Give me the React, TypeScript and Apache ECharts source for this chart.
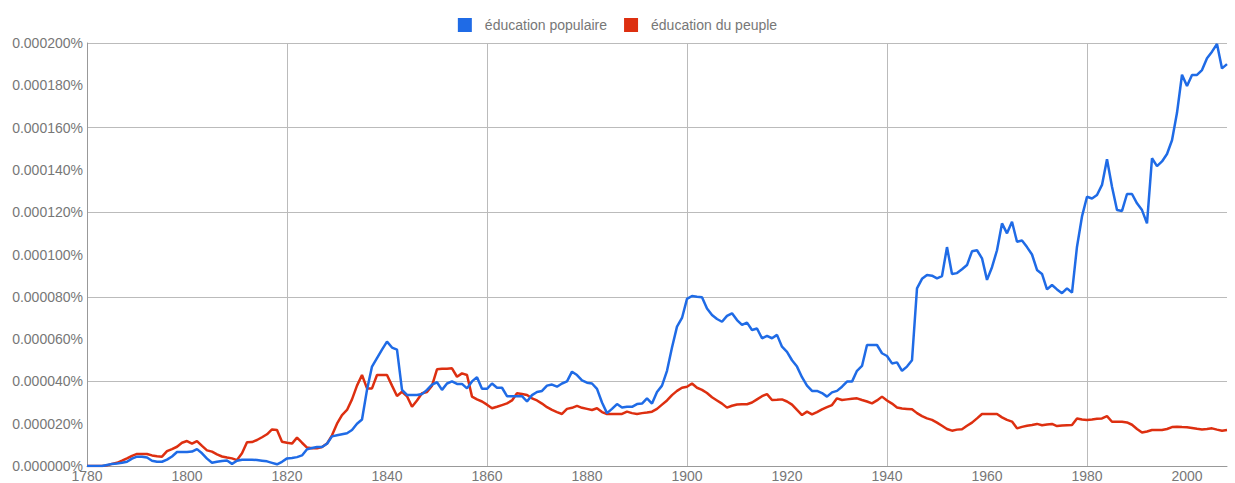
import React, { useEffect, useRef } from "react";
import * as echarts from "echarts";

// Values in millionths of a percent (20 = 0.000020%)
const startYear = 1780;
const endYear = 2008;

const seriesNames = ["éducation populaire", "éducation du peuple"];

const educationPopulaire = [
  0, 0, 0, 0, 0.5, 1, 1.2, 1.5, 2, 3.5,
  4.4, 4.4, 4, 2.5, 2, 2, 3, 4.5, 6.6, 6.6,
  6.6, 6.8, 8, 6, 3.5, 1.5, 2, 2.4, 2.6, 1,
  2.5, 3, 3, 3, 2.8, 2.5, 2.2, 1.5, 0.8, 2,
  3.6, 3.8, 4.2, 5, 7.9, 8.5, 9, 9, 10.5, 14,
  14.5, 15, 15.5, 17, 20, 22, 36, 47, 51, 55,
  58.8, 56, 55, 36, 33.6, 33.6, 33.6, 34, 36, 38.5,
  39.6, 36, 39, 40, 38.8, 38.8, 36.7, 40, 42, 36.5,
  36.5, 39, 37, 37, 33, 33, 33, 33, 30.5, 33.5,
  35, 35.5, 38, 38.5, 37.5, 39, 40, 44.6, 43, 40.5,
  39.4, 39, 36.5, 30, 25, 27, 29.3, 27.7, 28, 28,
  29.3, 29.5, 32, 29.5, 35, 38, 45, 56, 65.9, 70,
  79, 80.4, 80, 79.8, 74.5, 71.4, 69.5, 68.2, 71, 72.2,
  69, 66.7, 67.8, 64.3, 65, 60.4, 61.5, 60.4, 62, 56.4,
  54, 50, 47, 42, 38, 35.5, 35.5, 34.5, 32.8, 34.8,
  35.5, 37.5, 39.9, 39.9, 45, 47.3, 57.2, 57.2, 57.2, 53.3,
  52, 48.5, 49, 45, 47, 50, 84, 88.5, 90.3, 90,
  88.7, 89.8, 103.5, 90.8, 91.2, 93, 95, 101.5, 102, 98.2,
  88, 94, 102, 114.7, 110, 115.5, 106, 106.6, 103.5, 100,
  92.7, 90.8, 83.5, 85.6, 83.5, 81.7, 84, 82, 103.7, 118,
  127.3, 126.5, 128.1, 132.9, 145, 132, 121, 120.6, 128.6, 128.6,
  124.2, 121, 114.7, 145.5, 141.8, 144, 147.5, 154, 167, 185,
  179.7, 184.9, 184.9, 187.2, 192.8, 195.9, 199.5, 188, 190,
];

const educationDuPeuple = [
  0, 0, 0, 0, 0.3, 1, 1.5, 2.5, 3.6, 4.8,
  5.7, 5.7, 5.7, 5, 4.6, 4.4, 7, 8, 9.1, 11,
  11.8, 10.6, 11.8, 9.5, 7.4, 6.8, 5.5, 4.5, 4, 3.6,
  2.8, 6, 11.2, 11.3, 12.3, 13.6, 15, 17.3, 17, 11.5,
  11, 10.6, 13.4, 11, 8.7, 8.4, 8.4, 9, 10.6, 14.5,
  20, 24.1, 26.5, 31.5, 38, 43, 36.7, 36.7, 43, 43,
  43, 38, 33.1, 35.1, 33, 28, 31, 34.4, 35, 38,
  45.7, 46, 46, 46.2, 42.2, 43.8, 43, 32.8, 31.5, 30.5,
  29, 27.3, 28, 28.8, 29.6, 31, 34.4, 34, 33.6, 32,
  31, 29.5, 27.8, 26.5, 25.5, 24.6, 27, 27.5, 28.4, 27.5,
  27, 26.5, 27.3, 25.5, 24.6, 24.6, 24.6, 24.6, 25.7, 25,
  24.6, 25, 25.3, 25.7, 27, 29, 31, 33.5, 35.5, 37,
  37.5, 39, 37, 36, 34.5, 32.5, 31, 29.5, 27.6, 28.5,
  29.1, 29.2, 29.2, 30, 31.5, 33, 34, 31.2, 31.3, 31.5,
  30.5, 29, 26.5, 24.1, 25.7, 24.4, 25.5, 26.8, 27.8, 28.8,
  32, 31.2, 31.5, 31.8, 32, 31.2, 30.5, 29.6, 31, 32.8,
  31, 29.5, 27.7, 27.2, 27, 26.8, 25, 23.6, 22.5, 21.8,
  20.5, 19, 17.5, 16.7, 17.2, 17.4, 19, 20.5, 22.5, 24.6,
  24.6, 24.6, 24.6, 23, 21.8, 21, 17.8, 18.5, 19, 19.4,
  19.9, 19.3, 19.6, 19.9, 18.9, 19.2, 19.3, 19.4, 22.5, 22,
  21.8, 22, 22.3, 22.5, 23.6, 20.9, 20.9, 20.9, 20.6, 19.5,
  17.5, 15.8, 16.3, 17, 17, 17, 17.5, 18.4, 18.6, 18.4,
  18.3, 18, 17.6, 17.3, 17.5, 17.8, 17.2, 16.7, 17,
];

const seriesColors = ["#1f6be6", "#dd2f10"];

const toPairs = (vals: number[]) => vals.map((v, i) => [startYear + i, v]);

export default function App() {
  const ref = useRef<HTMLDivElement>(null);
  useEffect(() => {
    if (!ref.current) return;
    const chart = echarts.init(ref.current, undefined, { renderer: "svg" });
    const font = "'Liberation Sans', Arial, Helvetica, sans-serif";
    chart.setOption({
      animation: false,
      backgroundColor: "#ffffff",
      textStyle: { fontFamily: font },
      legend: {
        top: 13,
        left: "center",
        itemWidth: 14,
        itemHeight: 14,
        itemGap: 17,
        icon: "rect",
        textStyle: {
          color: "#777",
          fontSize: 14,
          fontFamily: font,
          padding: [0, 0, 0, 8],
        },
        data: seriesNames,
      },
      grid: { left: 87, top: 43, right: 8, bottom: 17, containLabel: false },
      xAxis: {
        type: "value",
        min: startYear,
        max: endYear,
        interval: 20,
        axisLine: { show: true, lineStyle: { color: "#999", width: 1 } },
        axisTick: { show: false },
        axisLabel: {
          color: "#777",
          fontSize: 14,
          margin: 3,
          fontFamily: font,
          formatter: (v: number) => (v % 20 === 0 ? String(v) : ""),
        },
        splitLine: {
          show: true,
          showMaxLine: false,
          lineStyle: { color: ["#bbbbbb", "rgba(0,0,0,0)"], width: 1 },
        },
      },
      yAxis: {
        type: "value",
        min: 0,
        max: 200,
        interval: 20,
        axisLine: { show: true, lineStyle: { color: "#999", width: 1 } },
        axisTick: { show: false },
        axisLabel: {
          color: "#777",
          fontSize: 14,
          margin: 4,
          fontFamily: font,
          formatter: (v: number) => (v / 1e6).toFixed(6) + "%",
        },
        splitLine: {
          show: true,
          lineStyle: { color: ["#bbbbbb", "rgba(0,0,0,0)"], width: 1 },
        },
      },
      series: [
        {
          name: seriesNames[0],
          type: "line",
          data: toPairs(educationPopulaire),
          showSymbol: false,
          symbol: "none",
          lineStyle: { width: 2.5, color: seriesColors[0] },
          itemStyle: { color: seriesColors[0] },
          z: 3,
        },
        {
          name: seriesNames[1],
          type: "line",
          data: toPairs(educationDuPeuple),
          showSymbol: false,
          symbol: "none",
          lineStyle: { width: 2.5, color: seriesColors[1] },
          itemStyle: { color: seriesColors[1] },
          z: 2,
        },
      ],
    });
    return () => chart.dispose();
  }, []);
  return (
    <div
      ref={ref}
      style={{ position: "fixed", left: 0, top: 0, width: 1235, height: 483 }}
    />
  );
}
